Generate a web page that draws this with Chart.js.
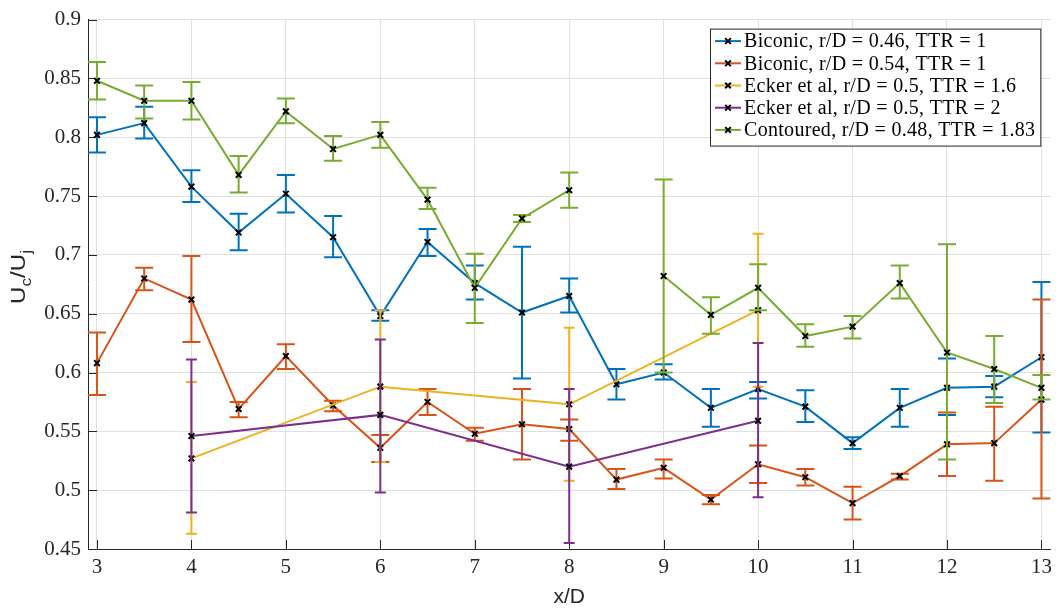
<!DOCTYPE html>
<html>
<head>
<meta charset="utf-8">
<script src="https://cdn.jsdelivr.net/npm/chart.js@4.4.1/dist/chart.umd.min.js"></script>
<style>
  html, body { margin: 0; padding: 0; background: #fff; }
</style>
</head>
<body>
<canvas id="jetChart" width="1058" height="608"></canvas>
<script>
// Axial stations (x/D)
const xStations = [3, 3.5, 4, 4.5, 5, 5.5, 6, 6.5, 7, 7.5, 8, 8.5, 9, 9.5, 10, 10.5, 11, 11.5, 12, 12.5, 13];
const xEcker = [4, 6, 8, 10];

// Biconic, r/D = 0.46, TTR = 1
const bic046 = [0.802, 0.812, 0.758, 0.719, 0.752, 0.715, 0.648, 0.711, 0.676, 0.651, 0.665, 0.590, 0.600, 0.570, 0.586, 0.571, 0.540, 0.570, 0.587, 0.588, 0.613];
const bic046Lo = [0.787, 0.799, 0.745, 0.704, 0.736, 0.698, 0.644, 0.699, 0.662, 0.595, 0.651, 0.577, 0.594, 0.554, 0.578, 0.558, 0.535, 0.554, 0.564, 0.579, 0.549];
const bic046Hi = [0.817, 0.826, 0.772, 0.735, 0.768, 0.733, 0.653, 0.722, 0.691, 0.707, 0.680, 0.603, 0.607, 0.586, 0.592, 0.585, 0.545, 0.586, 0.612, 0.597, 0.677];

// Biconic, r/D = 0.54, TTR = 1
const bic054 = [0.608, 0.680, 0.662, 0.569, 0.614, 0.572, 0.536, 0.575, 0.548, 0.556, 0.552, 0.509, 0.519, 0.492, 0.522, 0.511, 0.489, 0.512, 0.539, 0.540, 0.577];
const bic054Lo = [0.581, 0.670, 0.626, 0.562, 0.603, 0.567, 0.524, 0.564, 0.542, 0.526, 0.542, 0.501, 0.510, 0.488, 0.506, 0.504, 0.475, 0.509, 0.512, 0.508, 0.493];
const bic054Hi = [0.634, 0.689, 0.699, 0.575, 0.624, 0.576, 0.547, 0.586, 0.553, 0.586, 0.560, 0.518, 0.526, 0.496, 0.538, 0.518, 0.503, 0.514, 0.566, 0.571, 0.662];

// Ecker et al, r/D = 0.5, TTR = 1.6
const ecker16 = [0.527, 0.588, 0.573, 0.653];
const ecker16Lo = [0.463, 0.524, 0.508, 0.588];
const ecker16Hi = [0.592, 0.653, 0.638, 0.718];

// Ecker et al, r/D = 0.5, TTR = 2
const ecker2 = [0.546, 0.564, 0.520, 0.559];
const ecker2Lo = [0.481, 0.498, 0.455, 0.494];
const ecker2Hi = [0.611, 0.628, 0.586, 0.625];

// Contoured, r/D = 0.48, TTR = 1.83 (no value at 8.5)
const contoured = [0.848, 0.831, 0.831, 0.768, 0.822, 0.790, 0.802, 0.747, 0.672, 0.731, 0.755, null, 0.682, 0.649, 0.672, 0.631, 0.639, 0.676, 0.617, 0.603, 0.587];
const contouredLo = [0.832, 0.816, 0.815, 0.753, 0.812, 0.780, 0.791, 0.739, 0.642, 0.728, 0.740, null, 0.600, 0.633, 0.653, 0.622, 0.629, 0.663, 0.526, 0.574, 0.577];
const contouredHi = [0.864, 0.844, 0.847, 0.784, 0.833, 0.801, 0.813, 0.757, 0.701, 0.734, 0.770, null, 0.764, 0.664, 0.692, 0.641, 0.648, 0.691, 0.709, 0.631, 0.598];

const xTicks = [3, 4, 5, 6, 7, 8, 9, 10, 11, 12, 13];
const yTicks = [0.45, 0.5, 0.55, 0.6, 0.65, 0.7, 0.75, 0.8, 0.85, 0.9];

const AXIS_COLOR = "#262626";
const SERIF = "Liberation Serif, Times New Roman, serif";

function pairs(xs, ys) {
  return xs.map((x, i) => ({ x: x, y: ys[i] }));
}

function series(label, color, xs, ys, lo, hi, cap, order) {
  return {
    label: label,
    data: pairs(xs, ys),
    errLo: lo,
    errHi: hi,
    capHalf: cap,
    borderColor: color,
    backgroundColor: color,
    borderWidth: 2,
    pointStyle: "crossRot",
    pointRadius: 4,
    pointBorderWidth: 2,
    pointBorderColor: "#000",
    pointBackgroundColor: "#000",
    tension: 0,
    spanGaps: false,
    order: order,
  };
}

// error bars drawn just under each series' own line
const errorBarPlugin = {
  id: "errorBars",
  beforeDatasetDraw(chart, args) {
    const ds = chart.data.datasets[args.index];
    if (!ds.errLo) return;
    const ctx = chart.ctx;
    const xs = chart.scales.x, ys = chart.scales.y;
    ctx.save();
    ctx.strokeStyle = ds.borderColor;
    ctx.lineWidth = 2;
    ds.data.forEach((p, i) => {
      if (ds.errLo[i] == null) return;
      const px = xs.getPixelForValue(p.x);
      const y1 = ys.getPixelForValue(ds.errLo[i]);
      const y2 = ys.getPixelForValue(ds.errHi[i]);
      const c = ds.capHalf;
      ctx.beginPath();
      ctx.moveTo(px, y1); ctx.lineTo(px, y2);
      ctx.moveTo(px - c, y1); ctx.lineTo(px + c, y1);
      ctx.moveTo(px - c, y2); ctx.lineTo(px + c, y2);
      ctx.stroke();
    });
    ctx.restore();
  },
};

// inward ticks, axis titles and boxed legend
const decorPlugin = {
  id: "decor",
  beforeDatasetsDraw(chart) {
    const ctx = chart.ctx, a = chart.chartArea;
    ctx.save();
    ctx.strokeStyle = AXIS_COLOR;
    ctx.lineWidth = 1;
    ctx.beginPath();
    xTicks.forEach((t) => {
      const px = Math.round(chart.scales.x.getPixelForValue(t)) + 0.5;
      ctx.moveTo(px, a.bottom); ctx.lineTo(px, a.bottom - 9);
    });
    yTicks.forEach((t) => {
      const py = Math.round(chart.scales.y.getPixelForValue(t)) + 0.5;
      ctx.moveTo(a.left, py); ctx.lineTo(a.left + 9, py);
    });
    ctx.stroke();
    ctx.restore();
  },
  afterDraw(chart) {
    const ctx = chart.ctx, a = chart.chartArea;
    ctx.save();
    ctx.fillStyle = AXIS_COLOR;

    // x title
    ctx.font = "21px Liberation Sans, Arial, sans-serif";
    ctx.textAlign = "center";
    ctx.textBaseline = "middle";
    ctx.fillText("x/D", (a.left + a.right) / 2, 597);

    // y title U_c/U_j
    const big = "21px Liberation Sans, Arial, sans-serif";
    const small = "15px Liberation Sans, Arial, sans-serif";
    const parts = [["U", big, 0], ["c", small, 6], ["/U", big, 0], ["j", small, 6]];
    let total = 0;
    parts.forEach((p) => { ctx.font = p[1]; total += ctx.measureText(p[0]).width; });
    ctx.translate(25, 277);
    ctx.rotate(-Math.PI / 2);
    ctx.scale(1.15, 1);
    ctx.textAlign = "left";
    ctx.textBaseline = "alphabetic";
    let cx = -total / 2;
    parts.forEach((p) => {
      ctx.font = p[1];
      ctx.fillText(p[0], cx, p[2]);
      cx += ctx.measureText(p[0]).width;
    });
    ctx.restore();

    // legend
    const sets = chart.data.datasets;
    ctx.save();
    ctx.font = "20px " + SERIF;
    ctx.letterSpacing = "0.3px";
    let maxW = 0;
    sets.forEach((d) => { maxW = Math.max(maxW, ctx.measureText(d.label).width); });
    const right = a.right - 10, top = a.top + 9;
    const w = 34 + maxW + 5, h = 117;
    const left = Math.round(right - w);
    ctx.fillStyle = "#fff";
    ctx.fillRect(left, top, w, h);
    ctx.strokeStyle = AXIS_COLOR;
    ctx.lineWidth = 1;
    ctx.strokeRect(left + 0.5, top + 0.5, w, h);
    sets.forEach((d, i) => {
      const ry = top + 12.5 + i * 22.2;
      ctx.strokeStyle = d.borderColor;
      ctx.lineWidth = 2;
      ctx.beginPath();
      ctx.moveTo(left + 5, ry); ctx.lineTo(left + 31, ry);
      ctx.stroke();
      ctx.strokeStyle = "#000";
      ctx.beginPath();
      const mx = left + 18;
      ctx.moveTo(mx - 2.8, ry - 2.8); ctx.lineTo(mx + 2.8, ry + 2.8);
      ctx.moveTo(mx - 2.8, ry + 2.8); ctx.lineTo(mx + 2.8, ry - 2.8);
      ctx.stroke();
      ctx.fillStyle = "#000";
      ctx.textAlign = "left";
      ctx.textBaseline = "middle";
      ctx.fillText(d.label, left + 34, ry + 1);
    });
    ctx.restore();
  },
};

const tickFont = { family: SERIF, size: 21 };

new Chart(document.getElementById("jetChart").getContext("2d"), {
  type: "line",
  data: {
    datasets: [
      series("Biconic, r/D = 0.46, TTR = 1", "#0072BD", xStations, bic046, bic046Lo, bic046Hi, 9, 5),
      series("Biconic, r/D = 0.54, TTR = 1", "#D95319", xStations, bic054, bic054Lo, bic054Hi, 9, 4),
      series("Ecker et al, r/D = 0.5, TTR = 1.6", "#EDB120", xEcker, ecker16, ecker16Lo, ecker16Hi, 5.5, 3),
      series("Ecker et al, r/D = 0.5, TTR = 2", "#7E2F8E", xEcker, ecker2, ecker2Lo, ecker2Hi, 5.5, 2),
      series("Contoured, r/D = 0.48, TTR = 1.83", "#77AC30", xStations, contoured, contouredLo, contouredHi, 9, 1),
    ],
  },
  options: {
    responsive: false,
    animation: false,
    layout: { padding: { top: 18, right: 3, left: 0, bottom: 0 } },
    plugins: {
      legend: { display: false },
      tooltip: { enabled: false },
    },
    scales: {
      x: {
        type: "linear",
        min: 2.905,
        max: 13.095,
        afterBuildTicks: (s) => { s.ticks = xTicks.map((v) => ({ value: v })); },
        afterFit: (s) => { s.height = 59; },
        grid: { color: "#e0e0e0", lineWidth: 1, drawTicks: false },
        border: { color: AXIS_COLOR, width: 1 },
        ticks: { font: tickFont, color: AXIS_COLOR, padding: 6, maxRotation: 0,
          callback: (v) => String(v) },
      },
      y: {
        type: "linear",
        min: 0.45,
        max: 0.9,
        afterBuildTicks: (s) => { s.ticks = yTicks.map((v) => ({ value: v })); },
        afterFit: (s) => { s.width = 88; },
        grid: { color: "#e0e0e0", lineWidth: 1, drawTicks: false },
        border: { color: AXIS_COLOR, width: 1 },
        ticks: { font: tickFont, color: AXIS_COLOR, padding: 7,
          callback: (v) => String(+v.toFixed(2)) },
      },
    },
  },
  plugins: [errorBarPlugin, decorPlugin],
});
</script>
</body>
</html>
